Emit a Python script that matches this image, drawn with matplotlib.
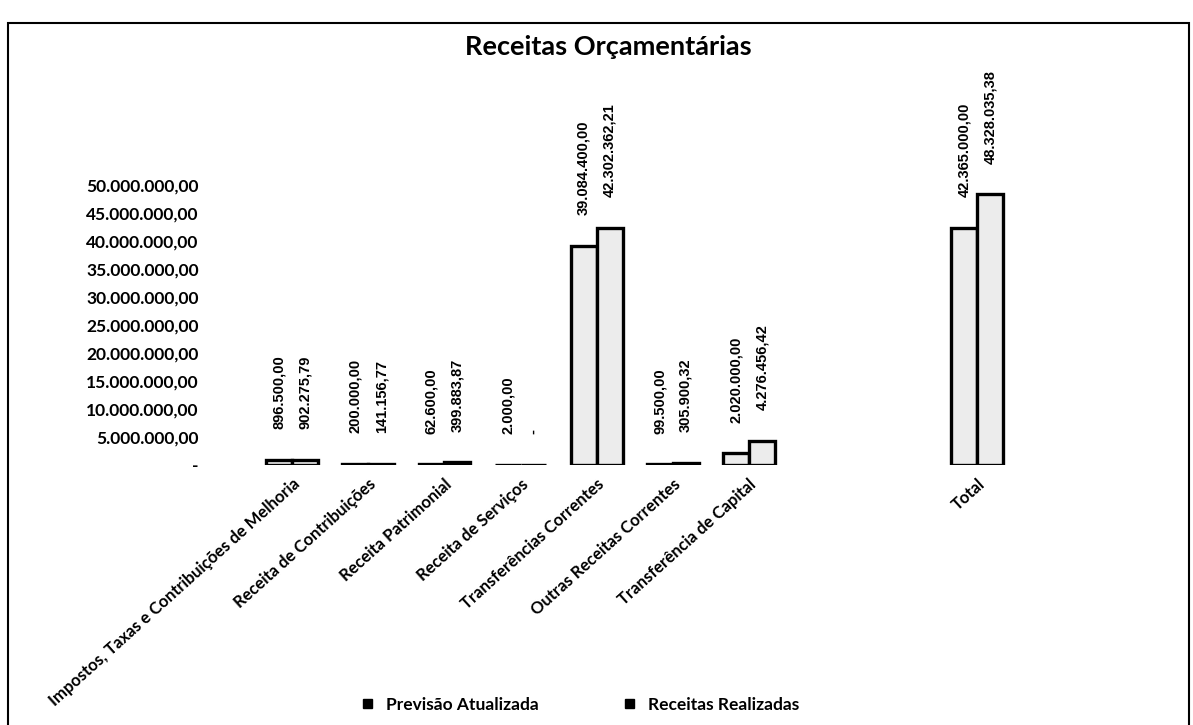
import matplotlib
matplotlib.use("Agg")
import matplotlib.pyplot as plt
from matplotlib.patches import Patch, Rectangle
import numpy as np

categories = ["Impostos, Taxas e Contribuições de Melhoria", "Receita de Contribuições",
              "Receita Patrimonial", "Receita de Serviços", "Transferências Correntes",
              "Outras Receitas Correntes", "Transferência de Capital", "Total"]
positions = [0, 1, 2, 3, 4, 5, 6, 9]
previsao = [896500.00, 200000.00, 62600.00, 2000.00, 39084400.00, 99500.00, 2020000.00, 42365000.00]
realizadas = [902275.79, 141156.77, 399883.87, 0.0, 42302362.21, 305900.32, 4276456.42, 48328035.38]
yticks = [0, 5e6, 10e6, 15e6, 20e6, 25e6, 30e6, 35e6, 40e6, 45e6, 50e6]
series_names = ["Previsão Atualizada", "Receitas Realizadas"]


def br(v):
    if v == 0:
        return "-"
    s = f"{v:,.2f}"
    return s.replace(",", "X").replace(".", ",").replace("X", ".")


fig = plt.figure(figsize=(11.93, 7.25), dpi=100)
ax = fig.add_axes([0.176, 0.359, 0.675, 0.386])

w = 0.34
x = np.array(positions, dtype=float)
for off, vals in [(-w / 2, previsao), (w / 2, realizadas)]:
    ax.bar(x + off, vals, width=w, color="#ececec", edgecolor="black", linewidth=2.4)
    for xi, v in zip(x + off, vals):
        ax.annotate(br(v), (xi, v), xytext=(0, 22), textcoords="offset points",
                    rotation=90, ha="center", va="bottom", fontsize=10.5,
                    fontweight="bold", family="Liberation Sans", annotation_clip=False)

ax.set_xlim(-1.08, 9.5)
ax.set_ylim(0, 50e6)
ax.set_yticks(yticks)
ax.set_yticklabels([br(v) for v in yticks], fontsize=12.5, fontweight="bold", family="Lato")
ax.set_xticks(positions)
ax.set_xticklabels(categories, rotation=42, ha="right", rotation_mode="anchor",
                   fontsize=12, fontweight="bold", family="Lato")
ax.tick_params(length=0, axis="y", pad=8)
ax.tick_params(length=0, axis="x", pad=8)
for sp in ax.spines.values():
    sp.set_visible(False)

fig.text(0.51, 0.935, "Receitas Orçamentárias", ha="center", va="center",
         fontsize=19.5, fontweight="bold", family="Lato")

handles = [Patch(facecolor="black", edgecolor="black", label=n) for n in series_names]
fig.legend(handles=handles, loc="center", bbox_to_anchor=(0.487, 0.028), ncol=2,
           frameon=False, handlelength=0.5, handleheight=0.5, columnspacing=5,
           prop={"family": "Lato", "weight": "bold", "size": 12.5})

fig.patches.append(Rectangle((0.007, -0.01), 0.99, 0.978, transform=fig.transFigure,
                             fill=False, edgecolor="black", linewidth=1.5))

fig.savefig("out.png", dpi=100, facecolor="white")
